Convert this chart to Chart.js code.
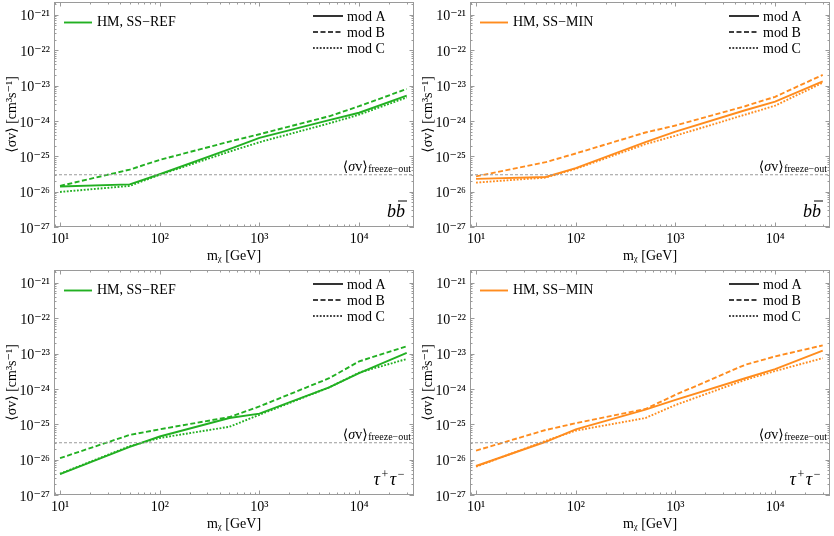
<!DOCTYPE html>
<html><head><meta charset="utf-8">
<script src="https://cdn.jsdelivr.net/npm/chart.js@4/dist/chart.umd.min.js"></script>
<style>
html,body{margin:0;padding:0;background:#fff;}
#wrap{position:relative;width:834px;height:536px;overflow:hidden;}
.p{position:absolute;width:417px;height:268px;}
</style></head><body>
<div id="wrap">
  <div class="p" style="left:0;top:0"><canvas id="c0"></canvas></div>
  <div class="p" style="left:416px;top:0"><canvas id="c1"></canvas></div>
  <div class="p" style="left:0;top:268px"><canvas id="c2"></canvas></div>
  <div class="p" style="left:416px;top:268px"><canvas id="c3"></canvas></div>
</div>
<script>
// ---- data ----
const masses = [10, 50, 100, 500, 1000, 5000, 10000, 30000];

const bbRefA = [1.4e-26, 1.6e-26, 3.1e-26, 1.6e-25, 3.3e-25, 1.05e-24, 1.7e-24, 5.2e-24];
const bbRefB = [1.45e-26, 4.2e-26, 7.9e-26, 2.6e-25, 4.2e-25, 1.35e-24, 2.6e-24, 8.0e-24];
const bbRefC = [9.8e-27, 1.45e-26, 3.0e-26, 1.35e-25, 2.5e-25, 8.5e-25, 1.5e-24, 4.6e-24];

const bbMinA = [2.3e-26, 2.6e-26, 4.6e-26, 2.5e-25, 5.0e-25, 2.0e-24, 3.5e-24, 1.3e-23];
const bbMinB = [2.7e-26, 6.8e-26, 1.2e-25, 4.7e-25, 7.4e-25, 2.6e-24, 4.8e-24, 2.0e-23];
const bbMinC = [1.8e-26, 2.5e-26, 4.4e-26, 2.2e-25, 3.8e-25, 1.5e-24, 2.7e-24, 1.2e-23];

const ttRefA = [3.9e-27, 2.3e-26, 4.5e-26, 1.5e-25, 2.0e-25, 1.1e-24, 2.8e-24, 1.05e-23];
const ttRefB = [1.1e-26, 5.0e-26, 7.2e-26, 1.6e-25, 3.2e-25, 2.0e-24, 6.0e-24, 1.6e-23];
const ttRefC = [4.0e-27, 2.4e-26, 4.1e-26, 8.5e-26, 1.85e-25, 1.1e-24, 2.9e-24, 7.0e-24];

const ttMinA = [6.6e-27, 3.2e-26, 7.2e-26, 2.6e-25, 4.9e-25, 2.0e-24, 3.6e-24, 1.2e-23];
const ttMinB = [1.8e-26, 6.9e-26, 1.07e-25, 2.7e-25, 6.8e-25, 4.8e-24, 8.3e-24, 1.7e-23];
const ttMinC = [6.3e-27, 3.4e-26, 6.6e-26, 1.5e-25, 3.5e-25, 1.8e-24, 3.2e-24, 7.4e-24];

const freezeOut = 3e-26;
const xPowers = [1, 2, 3, 4];
const yPowers = [-27, -26, -25, -24, -23, -22, -21];
const modLabels = ['mod A', 'mod B', 'mod C'];
const panelTitles = ['HM, SS\u2212REF', 'HM, SS\u2212MIN', 'HM, SS\u2212REF', 'HM, SS\u2212MIN'];
const channels = ['bb', 'bb', 'tautau', 'tautau'];
const xTitle = 'm\u1D6A [GeV]';
const yTitle = '\u27E8\u03C3v\u27E9 [cm\u00B3s\u207B\u00B9]';

// ---- styling ----
const xMin = 8.7, xMax = 35500, yMin = 1e-27, yMax = 2.3e-21;
const GREEN = '#22b022', ORANGE = '#ff8c1e';
const FRAME = '#9a9a9a';
const SERIF = "'Liberation Serif','DejaVu Serif','Times New Roman',serif";
const DASHES = [[], [5, 2.5], [1.8, 1.6]];

const SUP = {'-':'\u207B','0':'\u2070','1':'\u00B9','2':'\u00B2','3':'\u00B3','4':'\u2074','5':'\u2075','6':'\u2076','7':'\u2077','8':'\u2078','9':'\u2079'};
const sup = n => String(n).split('').map(c => SUP[c]).join('');
const isPow10 = v => Math.abs(Math.log10(v) - Math.round(Math.log10(v))) < 1e-9;

function logTicks(powers, lo, hi) {
  const out = [];
  const p0 = powers[0] - 1, p1 = powers[powers.length - 1];
  for (let p = p0; p <= p1; p++) {
    for (let k = 1; k <= 9; k++) {
      const v = Number(k + 'e' + p);
      if (v >= lo * 0.999999 && v <= hi * 1.000001) out.push(v);
    }
  }
  return out;
}
const xTickVals = logTicks(xPowers, xMin, xMax);
const yTickVals = logTicks(yPowers, yMin, yMax);
const tickLabel = v => isPow10(v) ? '10' + sup(Math.round(Math.log10(v))) : null;

const decor = {
  id: 'decor',
  afterDatasetsDraw(chart) {
    const o = chart.options.plugins.decor;
    const {ctx, chartArea: {left, right, top, bottom}, scales: {x, y}} = chart;
    ctx.save();
    // frame
    ctx.strokeStyle = FRAME; ctx.lineWidth = 1; ctx.setLineDash([]);
    ctx.strokeRect(left + 0.5, top + 0.5, right - left - 1, bottom - top - 1);
    // inward ticks on all four sides
    ctx.beginPath();
    xTickVals.forEach(v => {
      const px = Math.round(x.getPixelForValue(v)) + 0.5;
      const len = isPow10(v) ? 4.5 : 2.5;
      ctx.moveTo(px, bottom); ctx.lineTo(px, bottom - len);
      ctx.moveTo(px, top); ctx.lineTo(px, top + len);
    });
    yTickVals.forEach(v => {
      const py = Math.round(y.getPixelForValue(v)) + 0.5;
      const len = isPow10(v) ? 4.5 : 2.5;
      ctx.moveTo(left, py); ctx.lineTo(left + len, py);
      ctx.moveTo(right, py); ctx.lineTo(right - len, py);
    });
    ctx.stroke();

    ctx.fillStyle = '#000';
    ctx.textBaseline = 'alphabetic';
    // series legend (top-left)
    ctx.strokeStyle = o.color; ctx.lineWidth = 1.9;
    ctx.beginPath(); ctx.moveTo(left + 10, top + 20.5); ctx.lineTo(left + 38, top + 20.5); ctx.stroke();
    ctx.font = '14px ' + SERIF; ctx.textAlign = 'left';
    ctx.fillText(o.title, left + 43, top + 24);
    // model legend (top-right)
    modLabels.forEach((lab, i) => {
      const ly = top + 14 + 16 * i;
      ctx.strokeStyle = '#000'; ctx.lineWidth = 1.6; ctx.setLineDash(DASHES[i]);
      ctx.beginPath(); ctx.moveTo(left + 259, ly); ctx.lineTo(left + 289, ly); ctx.stroke();
      ctx.setLineDash([]);
      ctx.fillText(lab, left + 293, ly + 4.5);
    });
    // freeze-out label
    const fy = y.getPixelForValue(freezeOut);
    ctx.font = '10px ' + SERIF;
    const subTxt = 'freeze\u2212out';
    const sw = ctx.measureText(subTxt).width;
    let cx = right - 3 - sw;
    ctx.fillText(subTxt, cx, fy - 2.5);
    const parts = [['\u27E9', ''], ['v', ''], ['\u03C3', 'italic '], ['\u27E8', '']];
    cx -= 0.5;
    parts.forEach(([t, st]) => {
      ctx.font = st + '14px ' + SERIF;
      const w = ctx.measureText(t).width;
      cx -= w;
      ctx.fillText(t, cx, fy - 4);
    });
    // channel label
    const base = bottom - 10.5;
    if (o.channel === 'bb') {
      ctx.font = 'italic 18px ' + SERIF;
      const bw = ctx.measureText('b').width;
      const x0 = right - 9 - 2 * bw;
      ctx.fillText('b', x0, base);
      const x1 = x0 + bw;
      ctx.fillText('b', x1, base);
      ctx.strokeStyle = '#000'; ctx.lineWidth = 1;
      ctx.beginPath(); ctx.moveTo(x1 + 2, base - 15.5); ctx.lineTo(x1 + bw + 2, base - 15.5); ctx.stroke();
    } else {
      const segs = [['\u03C4', 'italic 18px ', 0], ['+', '12px ', -7], ['\u03C4', 'italic 18px ', 0], ['\u2212', '12px ', -7]];
      let tot = 0;
      segs.forEach(([t, f]) => { ctx.font = f + SERIF; tot += ctx.measureText(t).width + 1.5; });
      let tx = right - 8 - tot;
      segs.forEach(([t, f, dy]) => {
        ctx.font = f + SERIF;
        ctx.fillText(t, tx, base + dy);
        tx += ctx.measureText(t).width + 1.5;
      });
    }
    ctx.restore();
  }
};

function mkChart(id, idx, color, A, B, C) {
  const series = [A, B, C];
  const datasets = [{
    label: 'freeze-out',
    data: [{x: xMin, y: freezeOut}, {x: xMax, y: freezeOut}],
    borderColor: FRAME, borderWidth: 1, borderDash: [3, 2], pointRadius: 0
  }];
  series.forEach((s, i) => datasets.push({
    label: modLabels[i],
    data: masses.map((m, j) => ({x: m, y: s[j]})),
    borderColor: color, borderWidth: 1.9, borderDash: DASHES[i],
    pointRadius: 0, tension: 0, fill: false
  }));
  new Chart(document.getElementById(id), {
    type: 'line',
    data: {datasets},
    options: {
      responsive: true, maintainAspectRatio: false, animation: false,
      layout: {padding: {left: 0, right: 3, top: 2, bottom: 0}},
      plugins: {
        legend: {display: false}, tooltip: {enabled: false},
        decor: {color, title: panelTitles[idx], channel: channels[idx]}
      },
      scales: {
        x: {
          type: 'logarithmic', min: xMin, max: xMax,
          grid: {display: false, drawTicks: false}, border: {display: false},
          afterBuildTicks: s => { s.ticks = xTickVals.map(v => ({value: v})); },
          afterFit: s => { s.height = 41; s.paddingLeft = 0; s.paddingRight = 0; s.paddingTop = 0; s.paddingBottom = 0; },
          ticks: {autoSkip: false, maxRotation: 0, padding: 4, color: '#000',
            font: {family: SERIF, size: 14}, callback: v => tickLabel(v)},
          title: {display: true, text: xTitle, color: '#000',
            font: {family: SERIF, size: 14}, padding: {top: 0, bottom: 3}}
        },
        y: {
          type: 'logarithmic', min: yMin, max: yMax,
          grid: {display: false, drawTicks: false}, border: {display: false},
          afterBuildTicks: s => { s.ticks = yTickVals.map(v => ({value: v})); },
          afterFit: s => { s.width = 54; s.paddingLeft = 0; s.paddingRight = 0; s.paddingTop = 0; s.paddingBottom = 0; },
          ticks: {autoSkip: false, padding: 4, labelOffset: 2, color: '#000',
            font: {family: SERIF, size: 14}, callback: v => tickLabel(v)},
          title: {display: true, text: yTitle, color: '#000',
            font: {family: SERIF, size: 14}, padding: {top: 4, bottom: 0}}
        }
      }
    },
    plugins: [decor]
  });
}

mkChart('c0', 0, GREEN, bbRefA, bbRefB, bbRefC);
mkChart('c1', 1, ORANGE, bbMinA, bbMinB, bbMinC);
mkChart('c2', 2, GREEN, ttRefA, ttRefB, ttRefC);
mkChart('c3', 3, ORANGE, ttMinA, ttMinB, ttMinC);
</script>
</body></html>
